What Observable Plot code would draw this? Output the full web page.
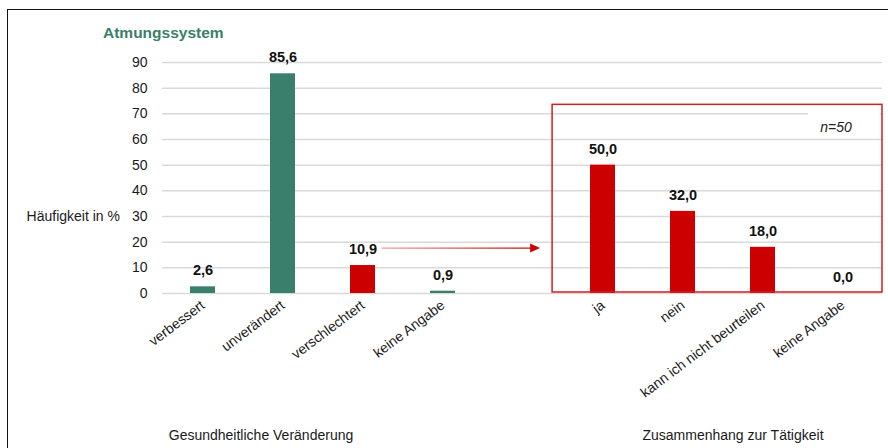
<!DOCTYPE html>
<html><head><meta charset="utf-8">
<script src="https://cdn.jsdelivr.net/npm/d3@7"></script>
<script src="https://cdn.jsdelivr.net/npm/@observablehq/plot@0.6"></script>
<style>
html,body{margin:0;padding:0;background:#fff;}
body{width:888px;height:448px;overflow:hidden;position:relative;font-family:'Liberation Sans',Arial,sans-serif;}
#frame{position:absolute;left:7px;top:9px;width:1000px;height:1000px;border-top:1px solid #111;border-left:1px solid #111;box-sizing:border-box;}
.lbl{position:absolute;white-space:nowrap;color:#1a1a1a;font-size:14px;line-height:20px;}
#title{left:103px;top:23px;font-weight:bold;color:#3a7f6b;font-size:15.5px;}
#ylabel{right:768px;top:206px;}
#g1{left:261px;transform:translateX(-50%);top:425px;}
#g2{left:733px;transform:translateX(-50%);top:425px;}
#chart{position:absolute;left:0;top:0;}
</style></head>
<body>
<div id="frame"></div>
<div id="chart"></div>
<div class="lbl" id="title">Atmungssystem</div>
<div class="lbl" id="ylabel">Häufigkeit in %</div>
<div class="lbl" id="g1">Gesundheitliche Veränderung</div>
<div class="lbl" id="g2">Zusammenhang zur Tätigkeit</div>
<script>
// ---- data ----
const changeCategories = ["verbessert", "unverändert", "verschlechtert", "keine Angabe"];
const changeValues = [2.6, 85.6, 10.9, 0.9];
const highlightedChange = "verschlechtert";
const workCategories = ["ja", "nein", "kann ich nicht beurteilen", "keine Angabe"];
const workValues = [50.0, 32.0, 18.0, 0.0];
const yTicks = [0, 10, 20, 30, 40, 50, 60, 70, 80, 90];
const sampleNote = "n=50";

const GREEN = "#3a7f6b";
const RED = "#cc0000";
const FONT = "'Liberation Sans',Arial,sans-serif";

const rows = [];
changeCategories.forEach((c, i) => rows.push({id: "c" + i, label: c, value: changeValues[i], color: c === highlightedChange ? RED : GREEN}));
const gapId = "gap";
workCategories.forEach((c, i) => rows.push({id: "w" + i, label: c, value: workValues[i], color: RED}));
const domain = [...changeCategories.map((_, i) => "c" + i), gapId, ...workCategories.map((_, i) => "w" + i)];
const labelOf = new Map(rows.map(d => [d.id, d.label]));
const fmt = v => v.toFixed(1).replace(".", ",");

const plot = Plot.plot({
  width: 888,
  height: 448,
  marginLeft: 162,
  marginRight: 6,
  marginTop: 62,
  marginBottom: 155,
  style: {fontFamily: FONT, fontSize: "14px", color: "#1a1a1a", background: "transparent"},
  x: {domain, paddingInner: 0.6875, paddingOuter: 0.34375, align: 0.5},
  y: {domain: [0, 90]},
  marks: [
    Plot.ruleY(yTicks, {stroke: "#d9d9d9", strokeWidth: 1.5}),
    Plot.barY(rows, {x: "id", y: "value", fill: "color"}),
    Plot.text(rows, {x: "id", y: "value", text: d => fmt(d.value), dy: -16, fontWeight: "bold", fontSize: 14.5, fill: "#111"}),
    Plot.axisY({ticks: yTicks, tickSize: 0, tickPadding: 15, label: null, fontSize: 14}),
    Plot.axisX({tickSize: 0, tickPadding: 10, tickRotate: -37, label: null, fontSize: 14, tickFormat: d => labelOf.get(d) ?? ""})
  ]
});
document.getElementById("chart").appendChild(plot);

// ---- annotation: red box, n note, arrow (positions from the plot's scales) ----
const xs = plot.scale("x"), ys = plot.scale("y");
const step = xs.step, bw = xs.bandwidth;
const cx = id => xs.apply(id) + bw / 2;
const svg = d3.select(plot);
const boxLeft = cx("w0") - step * 0.63;
const boxRight = xs.range[1];
const boxTop = ys.apply(73.5);
const boxBottom = ys.apply(0) - 1;

// white backing for the note
svg.append("rect").attr("x", boxRight - 74).attr("y", boxTop + 1).attr("width", 72).attr("height", 24).attr("fill", "#fff");
svg.append("rect").attr("x", boxLeft).attr("y", boxTop).attr("width", boxRight - boxLeft).attr("height", boxBottom - boxTop)
  .attr("fill", "none").attr("stroke", "#d21f1f").attr("stroke-width", 1.5);
svg.append("text").attr("x", boxRight - 46).attr("y", ys.apply(64.7)).attr("dy", "0.35em").attr("text-anchor", "middle")
  .attr("font-style", "italic").attr("font-size", 14).attr("fill", "#222").text(sampleNote);

// arrow from the highlighted category to the box
const hiId = "c" + changeCategories.indexOf(highlightedChange);
const ay = ys.apply(17.5);
const ax1 = cx(hiId) + 19, ax2 = boxLeft - 12;
const defs = svg.append("defs");
const g = defs.append("linearGradient").attr("id", "arrowGrad").attr("gradientUnits", "userSpaceOnUse")
  .attr("x1", ax1).attr("x2", ax2).attr("y1", ay).attr("y2", ay);
g.append("stop").attr("offset", "0%").attr("stop-color", "#f2a0a0");
g.append("stop").attr("offset", "100%").attr("stop-color", "#cc0000");
svg.append("line").attr("x1", ax1).attr("x2", ax2 - 8).attr("y1", ay).attr("y2", ay)
  .attr("stroke", "url(#arrowGrad)").attr("stroke-width", 1.2);
svg.append("path").attr("d", `M${ax2},${ay} L${ax2 - 10},${ay - 4.5} L${ax2 - 10},${ay + 4.5} Z`).attr("fill", "#cc0000");
</script>
</body></html>
